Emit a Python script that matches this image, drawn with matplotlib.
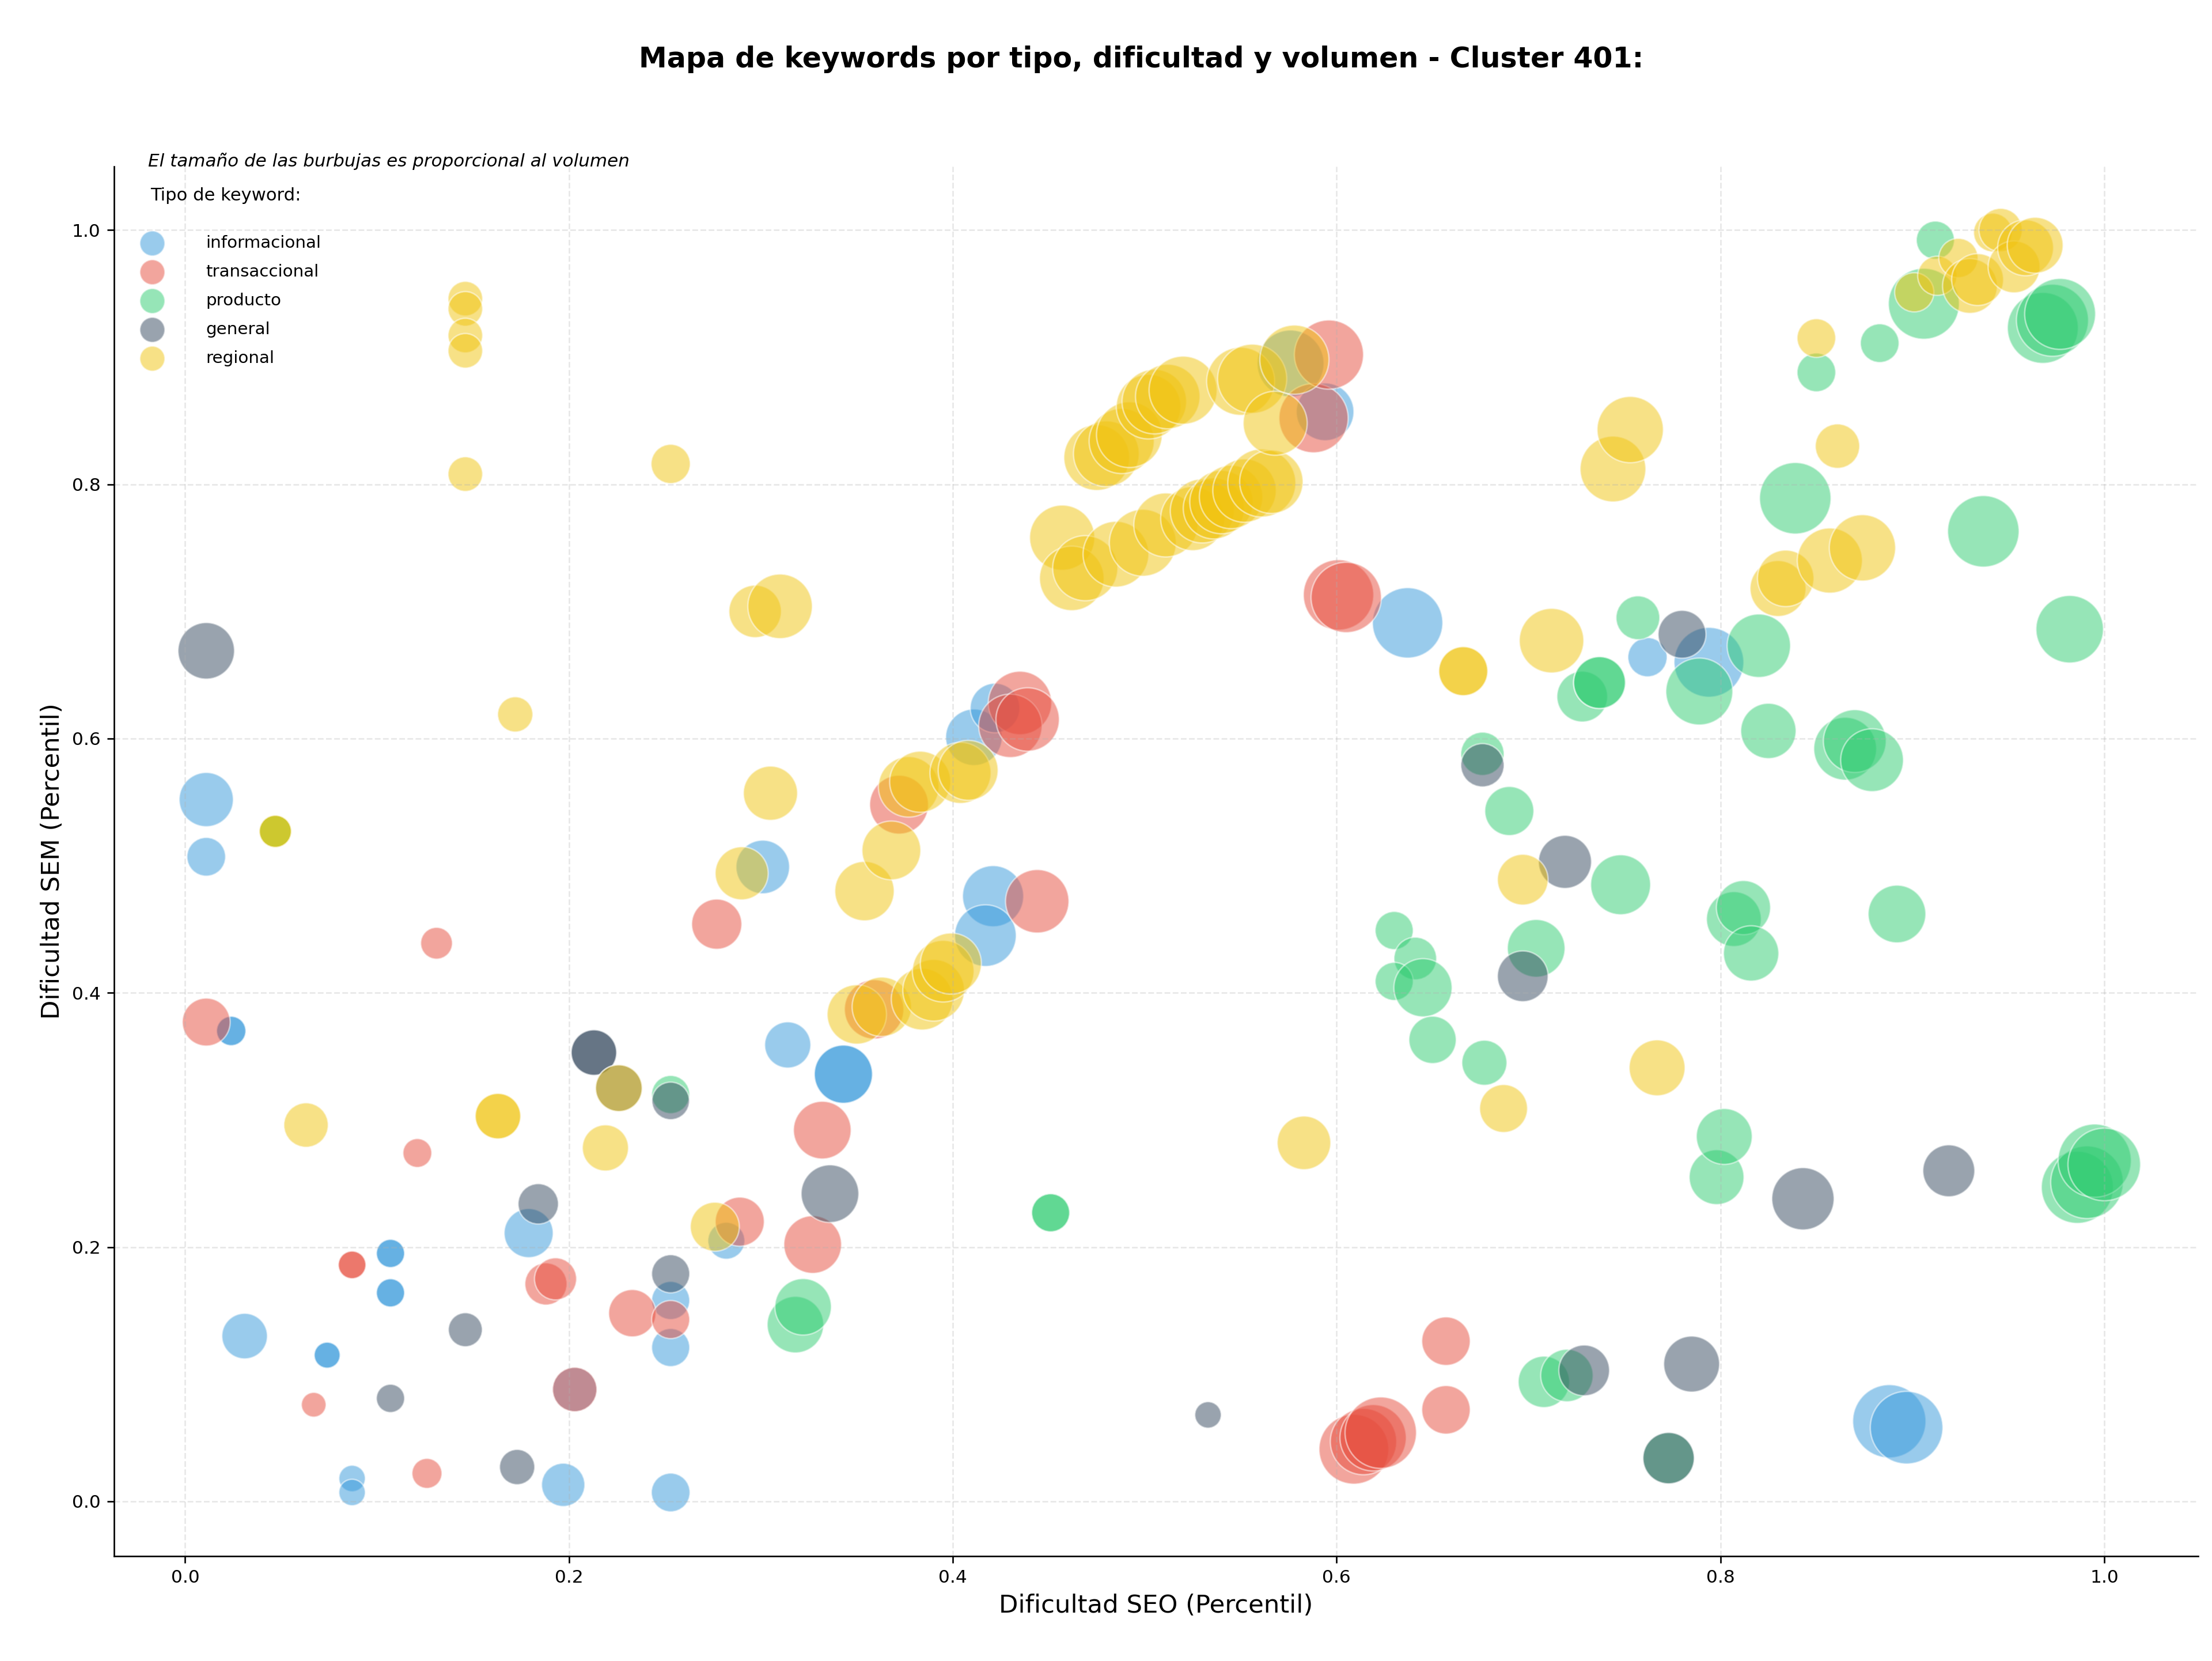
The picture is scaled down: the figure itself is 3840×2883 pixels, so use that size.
import numpy as np
import matplotlib.pyplot as plt

# Tipos de keyword y colores
tipos = ['informacional', 'transaccional', 'producto', 'general', 'regional']
colores = ['#3498db', '#e74c3c', '#2ecc71', '#34495e', '#f1c40f']

# informacional
seo_info = [0.011, 0.011, 0.024, 0.024, 0.031, 0.074, 0.074, 0.087, 0.087, 0.107, 0.107, 0.107, 0.107,
            0.179, 0.197, 0.203, 0.253, 0.253, 0.253, 0.282, 0.301, 0.314, 0.343, 0.343, 0.411, 0.422,
            0.421, 0.417, 0.576, 0.594, 0.637, 0.762, 0.794, 0.888, 0.897]
sem_info = [0.552, 0.507, 0.370, 0.370, 0.130, 0.115, 0.115, 0.018, 0.007, 0.195, 0.195, 0.164, 0.164,
            0.211, 0.013, 0.088, 0.158, 0.121, 0.007, 0.205, 0.499, 0.359, 0.336, 0.336, 0.601, 0.624,
            0.476, 0.445, 0.895, 0.857, 0.691, 0.664, 0.660, 0.063, 0.058]
vol_info = [265, 135, 78, 78, 187, 61, 61, 63, 63, 72, 72, 72, 72,
            217, 169, 178, 131, 131, 135, 123, 259, 192, 306, 306, 288, 222,
            337, 343, 404, 300, 447, 139, 439, 484, 476]

# transaccional
seo_trans = [0.011, 0.067, 0.087, 0.087, 0.121, 0.126, 0.131, 0.188, 0.193, 0.203, 0.233, 0.253,
             0.277, 0.289, 0.327, 0.332, 0.359, 0.372, 0.435, 0.430, 0.439, 0.444, 0.588, 0.596,
             0.601, 0.605, 0.609, 0.614, 0.619, 0.623, 0.657, 0.657]
sem_trans = [0.377, 0.076, 0.186, 0.186, 0.274, 0.022, 0.439, 0.171, 0.175, 0.088, 0.148, 0.143,
             0.454, 0.220, 0.202, 0.292, 0.387, 0.548, 0.628, 0.610, 0.615, 0.472, 0.852, 0.902,
             0.713, 0.711, 0.041, 0.047, 0.050, 0.054, 0.126, 0.072]
vol_trans = [207, 55, 69, 69, 75, 81, 91, 160, 160, 178, 202, 131,
             227, 217, 300, 300, 318, 312, 363, 363, 363, 363, 432, 432,
             447, 447, 439, 397, 397, 461, 212, 212]

# producto
seo_prod = [0.047, 0.047, 0.253, 0.318, 0.322, 0.451, 0.451, 0.630, 0.641, 0.630,
            0.645, 0.650, 0.677, 0.676, 0.690, 0.704, 0.708, 0.720, 0.728, 0.737,
            0.737, 0.748, 0.757, 0.773, 0.789, 0.798, 0.802, 0.807, 0.812, 0.816,
            0.820, 0.825, 0.839, 0.850, 0.865, 0.870, 0.879, 0.883, 0.892, 0.906,
            0.912, 0.937, 0.968, 0.973, 0.977, 0.982, 0.986, 0.991, 0.995, 1.0]
sem_prod = [0.527, 0.527, 0.320, 0.139, 0.153, 0.227, 0.227, 0.449, 0.427, 0.409,
            0.404, 0.363, 0.345, 0.588, 0.543, 0.435, 0.094, 0.099, 0.633, 0.644,
            0.644, 0.485, 0.695, 0.034, 0.637, 0.255, 0.287, 0.458, 0.467, 0.431,
            0.673, 0.606, 0.789, 0.888, 0.592, 0.598, 0.583, 0.911, 0.462, 0.942,
            0.992, 0.763, 0.923, 0.929, 0.934, 0.686, 0.247, 0.251, 0.268, 0.265]
vol_prod = [94, 94, 131, 288, 288, 131, 131, 131, 164, 131,
            306, 202, 183, 169, 217, 300, 238, 248, 232, 243,
            243, 324, 173, 238, 404, 271, 282, 271, 265, 276,
            363, 276, 461, 135, 356, 356, 356, 135, 300, 454,
            131, 461, 454, 469, 454, 411, 469, 476, 484, 476]

# general
seo_gen = [0.011, 0.107, 0.146, 0.173, 0.184, 0.213, 0.213, 0.226, 0.253, 0.253,
           0.336, 0.533, 0.676, 0.697, 0.719, 0.729, 0.773, 0.780, 0.785, 0.843, 0.919]
sem_gen = [0.669, 0.081, 0.135, 0.027, 0.234, 0.353, 0.353, 0.325, 0.315, 0.179,
           0.242, 0.068, 0.579, 0.413, 0.503, 0.103, 0.034, 0.682, 0.108, 0.238, 0.260]
vol_gen = [288, 72, 104, 112, 147, 187, 187, 197, 127, 131,
           300, 63, 169, 232, 254, 232, 238, 207, 282, 350, 243]

# regional
seo_reg = [0.047, 0.047, 0.063, 0.146, 0.146, 0.146, 0.146, 0.146, 0.163, 0.163,
           0.172, 0.219, 0.226, 0.253, 0.276, 0.290, 0.297, 0.310, 0.305, 0.350,
           0.354, 0.363, 0.368, 0.377, 0.383, 0.384, 0.390, 0.395, 0.399, 0.404, 0.408,
           0.457, 0.462, 0.469, 0.485, 0.499, 0.511, 0.525, 0.530, 0.536, 0.540,
           0.545, 0.552, 0.561, 0.566,
           0.475, 0.480, 0.488, 0.492, 0.502, 0.505, 0.512, 0.520, 0.550, 0.556, 0.568, 0.578,
           0.583, 0.666, 0.666, 0.687, 0.697, 0.712, 0.744, 0.753, 0.767, 0.830,
           0.834, 0.850, 0.857, 0.861, 0.874,
           0.901, 0.913, 0.924, 0.930, 0.934, 0.942, 0.946, 0.953, 0.959, 0.964]
sem_reg = [0.527, 0.527, 0.296, 0.946, 0.938, 0.917, 0.905, 0.808, 0.303, 0.303,
           0.619, 0.278, 0.325, 0.816, 0.216, 0.494, 0.700, 0.704, 0.557, 0.383,
           0.480, 0.389, 0.512, 0.562, 0.566, 0.395, 0.402, 0.417, 0.423, 0.573, 0.575,
           0.758, 0.726, 0.734, 0.745, 0.754, 0.768, 0.773, 0.779, 0.781, 0.786,
           0.790, 0.795, 0.801, 0.802,
           0.821, 0.824, 0.834, 0.839, 0.861, 0.865, 0.869, 0.874, 0.881, 0.883, 0.848, 0.898,
           0.282, 0.653, 0.653, 0.309, 0.489, 0.677, 0.812, 0.843, 0.341, 0.718,
           0.726, 0.915, 0.740, 0.830, 0.750,
           0.951, 0.964, 0.978, 0.956, 0.961, 0.998, 1.0, 0.971, 0.986, 0.988]
vol_reg = [94, 94, 178, 108, 108, 108, 108, 108, 187, 187,
           112, 192, 197, 139, 217, 254, 248, 376, 265, 318,
           318, 318, 312, 331, 337, 343, 343, 343, 337, 337, 324,
           383, 376, 383, 390, 404, 370, 370, 370, 337, 363,
           363, 363, 418, 363,
           390, 390, 383, 390, 376, 376, 376, 418, 418, 432, 370, 432,
           259, 217, 217, 207, 232, 376, 390, 397, 282, 282,
           288, 135, 383, 178, 397,
           139, 139, 139, 271, 243, 135, 169, 243, 282, 282]

seo = [seo_info, seo_trans, seo_prod, seo_gen, seo_reg]
sem = [sem_info, sem_trans, sem_prod, sem_gen, sem_reg]
vol = [vol_info, vol_trans, vol_prod, vol_gen, vol_reg]

fig = plt.figure(figsize=(16, 12.0125), dpi=240)
ax = fig.add_axes([0.0516, 0.0632, 0.9422, 0.8366])

for tipo, color, x, y, v in zip(tipos, colores, seo, sem, vol):
    ax.scatter(x, y, s=np.array(v) * 3, c=color, alpha=0.5,
               edgecolors='white', linewidths=0.8, label=tipo)

ax.set_xlim(-0.037, 1.049)
ax.set_ylim(-0.043, 1.05)
ax.grid(True, linestyle='--', alpha=0.3)
ax.spines[['top', 'right']].set_visible(False)
ax.set_xlabel('Dificultad SEO (Percentil)', fontsize=13)
ax.set_ylabel('Dificultad SEM (Percentil)', fontsize=13)
ax.tick_params(labelsize=9.4)

fig.text(0.516, 0.9643, 'Mapa de keywords por tipo, dificultad y volumen - Cluster 401:',
         fontsize=14.7, fontweight='bold', ha='center', va='center')
ax.text(0.0163, 1.0037, 'El tamaño de las burbujas es proporcional al volumen',
        transform=ax.transAxes, fontsize=9.3, style='italic', va='center')
ax.text(0.0174, 0.979, 'Tipo de keyword:', transform=ax.transAxes, fontsize=9.2, va='center')

leg = ax.legend(loc='upper left', bbox_to_anchor=(0.0102, 0.9508), frameon=False,
                fontsize=8.8, handletextpad=2.17, labelspacing=0.75,
                borderaxespad=0, borderpad=0)
for h in leg.legend_handles:
    h.set_sizes([170])

fig.savefig('out.png', dpi=240)
